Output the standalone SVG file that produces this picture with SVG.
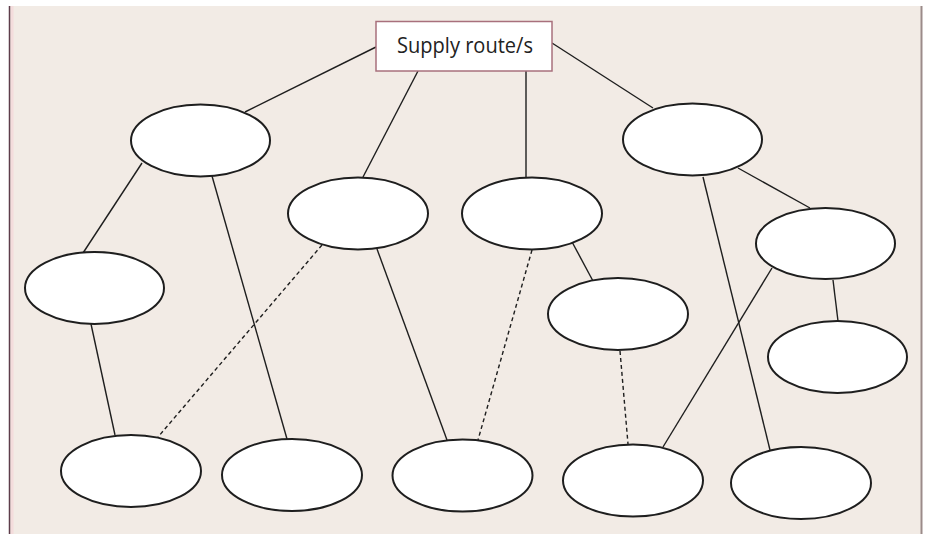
<svg xmlns="http://www.w3.org/2000/svg" width="926" height="534" viewBox="0 0 926 534">
<style>
.n{fill:#ffffff;stroke:#1e1e1e;stroke-width:2}
.c{stroke:#1e1e1e;stroke-width:1.4;fill:none}
.d{stroke:#1e1e1e;stroke-width:1.4;fill:none;stroke-dasharray:4 3}
.t{font-family:"Open Sans","Liberation Sans",sans-serif;font-size:22px;fill:#222222}
</style>
<rect x="0" y="0" width="926" height="534" fill="#ffffff"/>
<rect x="10" y="6" width="911" height="528" fill="#f2ebe5"/>
<rect x="10.5" y="6" width="3" height="528" fill="#f4dcdc"/>
<line x1="9.5" y1="6" x2="9.5" y2="534" stroke="#5e3d4a" stroke-width="1.5"/>
<line x1="921.5" y1="6" x2="921.5" y2="534" stroke="#9b8b89" stroke-width="2"/>
<g id="connectors">
<line class="c" x1="376" y1="47" x2="245" y2="112"/>
<line class="c" x1="418" y1="71" x2="363" y2="177"/>
<line class="c" x1="526" y1="71" x2="526" y2="177" stroke="#5a4a4a"/>
<line class="c" x1="552" y1="43" x2="653" y2="108"/>
<line class="c" x1="142" y1="163" x2="83" y2="253"/>
<line class="c" x1="212" y1="176" x2="287" y2="439"/>
<line class="c" x1="91" y1="324" x2="115" y2="435"/>
<line class="d" x1="322" y1="245" x2="158" y2="437"/>
<line class="c" x1="377" y1="249" x2="447" y2="440"/>
<line class="d" x1="532" y1="250" x2="478" y2="440"/>
<line class="c" x1="571" y1="240" x2="593" y2="281"/>
<line class="d" x1="620" y1="351" x2="628" y2="444"/>
<line class="c" x1="703" y1="177" x2="770" y2="450"/>
<line class="c" x1="738" y1="168" x2="810" y2="208"/>
<line class="c" x1="772" y1="268" x2="663" y2="447"/>
<line class="c" x1="833" y1="280" x2="838" y2="321"/>
</g>
<g id="supply">
<rect x="376" y="21.5" width="176" height="49.5" fill="#ffffff" stroke="#a8707c" stroke-width="1.5"/>
<text class="t" x="397" y="53" textLength="136" lengthAdjust="spacingAndGlyphs">Supply route/s</text>
</g>
<g id="nA"><ellipse class="n" cx="200.5" cy="140.5" rx="69.5" ry="36"/></g>
<g id="nB"><ellipse class="n" cx="358" cy="213.5" rx="70" ry="36"/></g>
<g id="nC"><ellipse class="n" cx="532" cy="213.5" rx="70" ry="36"/></g>
<g id="nD"><ellipse class="n" cx="692.5" cy="139.5" rx="69.5" ry="36"/></g>
<g id="nE"><ellipse class="n" cx="825.5" cy="243.5" rx="69.5" ry="35.5"/></g>
<g id="nF"><ellipse class="n" cx="94.5" cy="288" rx="69.5" ry="36"/></g>
<g id="nG"><ellipse class="n" cx="618" cy="314" rx="70" ry="36"/></g>
<g id="nH"><ellipse class="n" cx="837.5" cy="357" rx="69.5" ry="36"/></g>
<g id="nI"><ellipse class="n" cx="131" cy="471" rx="70" ry="36"/></g>
<g id="nJ"><ellipse class="n" cx="292" cy="475" rx="70" ry="36"/></g>
<g id="nK"><ellipse class="n" cx="462.5" cy="475.5" rx="70" ry="36"/></g>
<g id="nL"><ellipse class="n" cx="633" cy="480.5" rx="70" ry="36"/></g>
<g id="nM"><ellipse class="n" cx="801" cy="483" rx="70" ry="36"/></g>
</svg>
